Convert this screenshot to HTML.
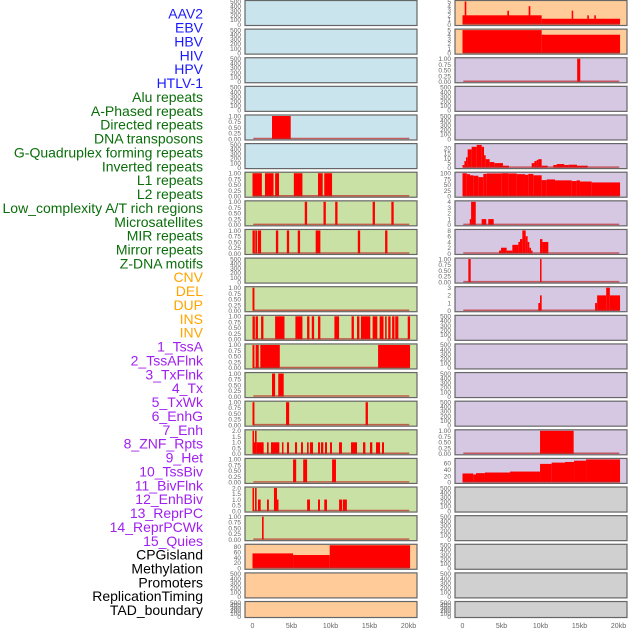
<!DOCTYPE html>
<html><head><meta charset="utf-8"><style>
body{margin:0;background:#fff;width:630px;height:630px;overflow:hidden}
svg{display:block}
text{font-family:"Liberation Sans",sans-serif}
</style></head><body>
<svg id="chart" width="630" height="630" viewBox="0 0 630 630" xmlns="http://www.w3.org/2000/svg"></svg>
<script>
const trackNames = ["AAV2","EBV","HBV","HIV","HPV","HTLV-1","Alu repeats","A-Phased repeats","Directed repeats","DNA transposons","G-Quadruplex forming repeats","Inverted repeats","L1 repeats","L2 repeats","Low_complexity A/T rich regions","Microsatellites","MIR repeats","Mirror repeats","Z-DNA motifs","CNV","DEL","DUP","INS","INV","1_TssA","2_TssAFlnk","3_TxFlnk","4_Tx","5_TxWk","6_EnhG","7_Enh","8_ZNF_Rpts","9_Het","10_TssBiv","11_BivFlnk","12_EnhBiv","13_ReprPC","14_ReprPCWk","15_Quies","CPGisland","Methylation","Promoters","ReplicationTiming","TAD_boundary"];
const labelColors = {viral:"#1a1aff",repeat:"#0a6e0a",sv:"#ffa500",chrom:"#a020f0",other:"#000"};
const groups = ["viral","viral","viral","viral","viral","viral","repeat","repeat","repeat","repeat","repeat","repeat","repeat","repeat","repeat","repeat","repeat","repeat","repeat","sv","sv","sv","sv","sv","chrom","chrom","chrom","chrom","chrom","chrom","chrom","chrom","chrom","chrom","chrom","chrom","chrom","chrom","chrom","other","other","other","other","other"];
const bgColors = {viral:"#c9e4ec",repeat:"#c9e1a4",sv:"#ffcc99",chrom:"#d6c7e3",other:"#d0d0d0"};
const xTicks = [0,5,10,15,20];
const xTickLabels = ["0","5kb","10kb","15kb","20kb"];
const yMax = [500,500,500,500,1,500,1,1,1,500,1,1,1,1,1,2,1,2,1,85,500,500,5,5,1,500,500,24,100,4,8,1,3,500,500,500,500,1,72,500,500,500,500,500];
const yTickSets = {
 500:[0,100,200,300,400,500],1:[0,0.25,0.5,0.75,1],2:[0,0.5,1,1.5,2],85:[0,20,40,60,80],
 5:[0,1,2,3,4,5],24:[0,5,10,15,20],100:[0,25,50,75,100],4:[0,1,2,3,4],8:[0,2,4,6,8],3:[0,1,2,3],72:[0,20,40,60]
};
const seg_HPV = [[2.5,4.9,1]];
const seg_Alu = [[0,1.2,1],[1.6,2.7,1],[2.9,3.4,1],[5.3,6.4,1],[8.4,9.0,1],[9.2,10.2,1]];
const seg_APhased = [[6.7,7.0,1],[9.1,9.4,1],[10.6,10.9,1],[15.4,15.7,1],[17.8,18.1,1]];
const seg_Directed = [[0,0.3,1],[0.35,0.6,1],[0.7,1.1,1],[3.0,3.3,1],[4.4,4.7,1],[5.8,6.1,1],[8.1,8.7,1],[13.5,13.8,1],[17.0,17.3,1]];
const seg_GQuad = [[0,0.25,1]];
const seg_Inverted = [[0,0.3,1],[0.4,0.7,1],[1.1,1.4,1],[2.9,4.1,1],[5.5,6.4,1],[7.0,7.3,1],[7.6,7.9,1],[8.4,8.7,1],[10.5,11.1,1],[12.7,13.0,1],[13.4,13.7,1],[13.9,15.1,1],[15.4,16.0,1],[16.3,16.8,1],[17.0,17.2,1],[17.4,17.7,1],[17.9,18.2,1],[18.3,18.7,1],[19.9,20.2,1]];
const seg_L1 = [[0,0.25,1],[0.4,0.8,1],[1.0,3.5,1],[16.1,20.2,1]];
const seg_L2 = [[2.5,2.9,1],[3.3,4.0,1]];
const seg_LowComp = [[0,0.25,1],[4.3,4.7,1],[14.5,14.8,1]];
const seg_Microsat = [[0,0.11,2],[0.11,0.32,1],[0.32,0.53,2],[0.53,1.43,1],[1.86,2.07,1],[2.37,3.44,1],[3.78,3.95,1],[4.42,4.68,1],[5.45,5.71,1],[6.22,6.47,1],[6.99,7.2,1],[7.37,7.76,1],[8.4,8.65,1],[8.78,9.08,1],[9.29,9.55,1],[9.94,10.19,1],[11.09,11.47,1],[12.63,13.4,1],[14.17,14.47,1],[15.06,15.36,1],[15.83,16.35,1],[16.6,16.86,1]];
const seg_MIR = [[5.2,5.6,1],[6.5,7.0,1],[10.2,10.7,1]];
const seg_Mirror = [[0,0.11,2],[0.32,0.53,2],[0.7,1.05,1],[1.86,2.1,1],[2.75,3.14,2],[3.14,3.3,1],[7.0,7.37,1],[8.4,8.65,1],[9.2,9.55,1],[11.1,11.5,1],[11.6,12.1,1]];
const seg_ZDNA = [[1.22,1.43,1]];
const seg_CNV = [[0,5.2,55],[5.2,9.9,49],[9.9,20.2,85]];
const seg_INS = [[0,10.15,2],[10.15,20.2,1.25],[0.28,0.49,5],[5.75,5.96,3],[8.48,8.7,4],[14.0,14.15,3],[16.0,16.2,2],[16.9,17.1,2]];
const seg_INV = [[0,10.15,5],[10.15,20.2,4]];
const seg_TssA = [[14.7,15.1,1]];
const seg_R5 = [[0,0.24,2.7],[0.24,0.45,6.8],[0.45,0.66,10.8],[0.66,1.17,19],[1.17,1.82,21.7],[1.82,2.46,23.7],[2.46,2.76,21.7],[2.76,2.97,12.9],[2.97,3.48,8.8],[3.48,4.08,5.8],[4.08,5.19,4.7],[5.19,5.96,2],[8.87,9.21,4.7],[9.21,9.51,6.8],[9.51,9.72,8],[9.72,10.15,8.8],[10.15,10.92,2],[11.64,12.07,2.7],[12.07,13.05,3.7],[13.05,13.57,2.7],[13.57,14.68,3],[14.68,16.05,2]];
const seg_R6 = [[0,0.54,100],[0.54,0.96,96],[0.96,1.39,91],[1.39,2.03,89],[2.03,2.67,83],[2.67,3.1,97],[3.1,5.02,99],[5.02,5.88,100],[5.88,6.94,99],[6.94,8.01,96],[8.01,8.44,93],[8.44,9.08,97],[9.08,10.15,91],[10.15,10.79,70],[10.79,11.86,73],[11.86,14.0,69],[14.0,14.63,66],[14.63,15.06,69],[15.06,16.56,64],[16.56,20.2,60]];
const seg_R7 = [[0.93,1.1,1],[1.1,1.7,4],[2.45,3.05,1],[3.3,4.0,1]];
const seg_R8 = [[4.68,4.94,1],[4.94,5.66,2],[5.66,6.39,1],[6.39,7.16,3],[7.16,7.37,4],[7.37,7.67,5],[7.67,8.1,8],[8.1,8.35,6],[8.35,8.57,4],[8.57,8.78,2],[8.78,8.87,1],[9.94,10.24,5],[10.24,11.0,4]];
const seg_R9 = [[0.75,1.05,1],[9.94,10.1,1]];
const seg_R10 = [[9.72,9.94,1],[9.94,10.15,2],[17.0,17.26,1],[17.26,18.42,2],[18.42,18.89,3],[18.89,20.2,2]];
const seg_ReprPCWk = [[9.94,14.25,1]];
const seg_Quies = [[0,1.39,28],[1.39,1.73,25],[1.73,2.88,29],[2.88,6.09,31],[6.09,9.94,34],[9.94,11.43,58],[11.43,13.14,62],[13.14,14.3,64],[14.3,15.84,68],[15.84,20.2,72]];
const trackSegs = {4:seg_HPV,6:seg_Alu,7:seg_APhased,8:seg_Directed,10:seg_GQuad,11:seg_Inverted,12:seg_L1,13:seg_L2,14:seg_LowComp,15:seg_Microsat,16:seg_MIR,17:seg_Mirror,18:seg_ZDNA,19:seg_CNV,22:seg_INS,23:seg_INV,24:seg_TssA,27:seg_R5,28:seg_R6,29:seg_R7,30:seg_R8,31:seg_R9,32:seg_R10,37:seg_ReprPCWk,38:seg_Quies};

const NS="http://www.w3.org/2000/svg";
const svg=document.getElementById('chart');
function mk(tag,attrs,parent){const e=document.createElementNS(NS,tag);for(const k in attrs)e.setAttribute(k,attrs[k]);(parent||svg).appendChild(e);return e;}

trackNames.forEach((n,i)=>{
  const t=mk('text',{x:203,y:18.7+i*13.87,'text-anchor':'end','font-size':14,fill:labelColors[groups[i]]});
  t.textContent=n;
  
  
});

const colX=[245,455], panelW=172, pitch=28.62;
function xScale(col,kb){return colX[col]+7.5+kb*7.8;}

for(let i=0;i<44;i++){
  const col=i<22?0:1, row=i%22;
  const top=row*pitch+0.5;
  const h=row===21?16:25;
  const bottom=top+h;
  const g=mk('g',{});
  
  
  const x0=colX[col];
  mk('rect',{x:x0,y:top,width:panelW,height:h,fill:bgColors[groups[i]]},g);
  const ym=yMax[i];
  const yS=v=>bottom-1-(Math.min(v,ym)/ym)*(h-2);
  const segs=trackSegs[i];
  if(segs){
    segs.forEach(s=>{
      const xa=xScale(col,s[0]), xb=xScale(col,s[1]);
      const r=mk('rect',{x:xa,y:yS(s[2]),width:Math.max(1.5,xb-xa),height:bottom-1-yS(s[2]),fill:'#ff0000'},g);
      
      
    });
    mk('line',{x1:xScale(col,0.1),x2:xScale(col,20.1),y1:bottom-1.5,y2:bottom-1.5,stroke:'rgba(190,40,40,0.7)','stroke-width':1.5},g);
  }
  mk('rect',{x:x0,y:top,width:panelW,height:h,fill:'none',stroke:'#666','stroke-width':1.2},g);
  const ticks=yTickSets[ym];
  ticks.forEach(tv=>{
    const t=mk('text',{x:x0-4,y:yS(tv)+2.3,'text-anchor':'end','font-size':6.5,fill:'#666'},g);
    t.textContent = (ym===1)?tv.toFixed(2):(ym===2?tv.toFixed(1):String(tv));
    
    
  });
}
[0,1].forEach(col=>{
  xTicks.forEach((v,j)=>{
    const t=mk('text',{x:xScale(col,v),y:628,'text-anchor':'middle','font-size':7,fill:'#666'});
    t.textContent=xTickLabels[j];
    
    
  });
});
</script>
</body></html>
